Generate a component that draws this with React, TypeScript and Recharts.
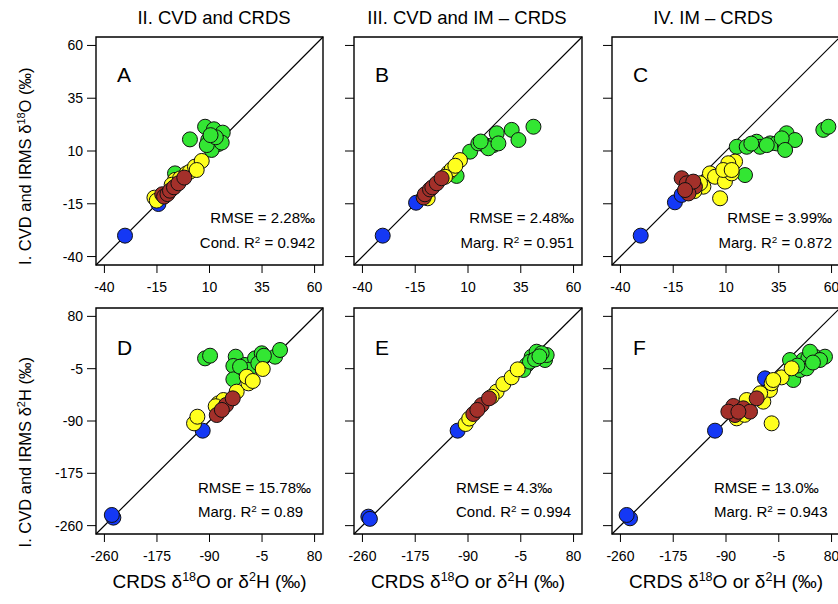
import React from "react";
import { ScatterChart, Scatter, XAxis, YAxis, ReferenceLine, ReferenceArea } from "recharts";

type Pt = [number, number];

// axis setup (R style: 4% padding around the tick range)
const isoTicks = [-40, -15, 10, 35, 60];
const isoDomain: [number, number] = [-44, 64];
const hydTicks = [-260, -175, -90, -5, 80];
const hydDomain: [number, number] = [-273.6, 93.6];

const colTitles = ["II. CVD and CRDS", "III. CVD and IM \u2013 CRDS", "IV. IM \u2013 CRDS"];
const panelLetters = ["A", "B", "C", "D", "E", "F"];
const rmseValues = ["2.28", "2.48", "3.99", "15.78", "4.3", "13.0"];
const r2Kinds = ["Cond.", "Marg.", "Marg.", "Marg.", "Cond.", "Marg."];
const r2Values = ["0.942", "0.951", "0.872", "0.89", "0.994", "0.943"];

// A: CVD and CRDS, d18O
const aBlue: Pt[] = [[-30.2, -30.1], [-14.3, -15.1]];
const aGreen: Pt[] = [[7.9, 21.5], [12.1, 20.3], [16.3, 18.7], [0.7, 15.5], [9.4, 15.2], [11.8, 14], [14.2, 13.3], [11, 10.5], [8.7, 12.8], [15.8, 14], [-6.4, -0.6], [13, 16.5], [10.5, 17.5]];
const aYellow: Pt[] = [[-16.2, -12.1], [-15.1, -13.5], [-0.9, -0.6], [0.7, 0.2], [3.1, 2.6], [6.3, 5.3], [3.9, 1], [-6.4, -3.7], [-8, -6], [-4, -3]];
const aBrown: Pt[] = [[-12.5, -10.5], [-11.6, -11.6], [-10, -10.4], [-8.8, -8.8], [-6.9, -7.2], [-4.8, -5.3], [-2, -2.6]];

// B: CVD and IM - CRDS, d18O
const bBlue: Pt[] = [[-30.4, -30.1], [-14.6, -14.5]];
const bGreen: Pt[] = [[4.6, -1.8], [11, 9.7], [18.1, 12.8], [14.9, 13.6], [22, 12.8], [23.6, 18.4], [30.7, 20], [33.9, 15.2], [41, 21.5], [19.6, 11.3], [24.4, 13.6], [16, 14.5]];
const bYellow: Pt[] = [[-9.1, -12.4], [0.7, -0.3], [6.2, 5.7], [2.3, 1.3], [-0.9, -2.2], [4, 3]];
const bBrown: Pt[] = [[-11, -12], [-10.4, -10.5], [-8, -8.2], [-6.9, -7.2], [-4.8, -5.3], [-2.5, -2.9]];

// C: IM - CRDS, d18O
const cBlue: Pt[] = [[-30.4, -30.1], [-14.2, -14.3], [-11, -10.8]];
const cGreen: Pt[] = [[15.1, 12], [19, -1.4], [19.8, 12], [24.5, 14.4], [26.1, 12], [30.9, 13.6], [34, 13.6], [37.9, 12.8], [38.7, 18.4], [42.7, 15.2], [36.4, 16], [56.1, 20], [58.5, 21.5], [29.3, 12.8], [22, 13.5], [38, 10.5]];
const cYellow: Pt[] = [[2.4, -0.6], [4.8, -2.2], [9.5, -4.5], [12.7, -0.6], [14.3, 5], [11.1, 4.2], [7.2, -12.4], [-0.7, -6.9], [-2.3, -5.3], [8.7, 1], [12.7, 1], [-5, -9]];
const cBrown: Pt[] = [[-11, -2.9], [-8.6, -5.3], [-7.1, -7.7], [-4.7, -6.9], [-7.8, -10.1], [-5.5, -4.5], [-9.4, -8.5]];

// D: CVD and CRDS, d2H
const dBlue: Pt[] = [[-245.5, -247], [-248, -242.7], [-101, -105.7]];
const dGreen: Pt[] = [[-97.2, 11.8], [-89.1, 16.1], [-47.6, 14.5], [-51.4, -0.6], [-51.4, -22.3], [-32.5, 1], [-16.3, 11.8], [-5.5, 20], [16.1, 14.5], [24.1, 25.4], [-27, -7.1], [-40.6, -1.7], [-11, 3.7], [-2, 16]];
const dYellow: Pt[] = [[-115, -93.8], [-109.6, -83], [-75.6, -61.3], [-46, -42.3], [-27, -28.8], [-29.8, -18], [-3.9, -5.5], [-67.5, -55.9], [-20, -25], [-80, -66]];
const dBrown: Pt[] = [[-78.3, -80.3], [-63.2, -64], [-52.4, -53.2], [-70, -72]];

// E: CVD and IM - CRDS, d2H
const eBlue: Pt[] = [[-250.5, -245.4], [-248, -249], [-106.7, -105.7]];
const eGreen: Pt[] = [[12.5, 14.5], [20.5, 22.6], [34, 9.1], [36.7, 17.2], [4.4, 1], [-0.9, -7.1], [9.8, 6.4], [28.6, 20], [18, 10], [25, 15]];
const eYellow: Pt[] = [[-93.8, -94.9], [-43.9, -42.3], [-33.1, -29.9], [-19.7, -19.1], [-10, -6.1], [-51.9, -50.5], [-88, -86]];
const eBrown: Pt[] = [[-81.4, -78.6], [-68, -64], [-56.2, -53.2], [-75, -72]];

// F: IM - CRDS, d2H
const fBlue: Pt[] = [[-244.6, -248.1], [-250, -242.7], [-107.7, -105.7], [-27.2, -20.7]];
const fGreen: Pt[] = [[18.4, -23.4], [29.2, -7.1], [34.5, 9.1], [42.6, 11.8], [53.3, 14.5], [69.4, 14.5], [13.1, 9.1], [45.3, 22.6], [39.9, -4.4], [61.4, 9.1], [50, 5], [25, 0]];
const fYellow: Pt[] = [[-72.8, -85.7], [-56.7, -55.9], [-29.9, -58.6], [-19.2, -39.6], [-16.5, -28.8], [-0.4, -19.1], [15.7, -4.4], [-16.5, -93.8], [-13.8, -23.4], [-35, -45], [-60, -80]];
const fBrown: Pt[] = [[-78.2, -65.6], [-75.5, -80.3], [-86.2, -74.8], [-62.1, -69.4], [-40.6, -53.2], [-51.3, -74.8], [-70, -75]];

const panelData = [
  { blue: aBlue, green: aGreen, yellow: aYellow, brown: aBrown },
  { blue: bBlue, green: bGreen, yellow: bYellow, brown: bBrown },
  { blue: cBlue, green: cGreen, yellow: cYellow, brown: cBrown },
  { blue: dBlue, green: dGreen, yellow: dYellow, brown: dBrown },
  { blue: eBlue, green: eGreen, yellow: eYellow, brown: eBrown },
  { blue: fBlue, green: fGreen, yellow: fYellow, brown: fBrown },
];

const COLORS = { blue: "#1438f5", green: "#33e633", yellow: "#ffff1e", brown: "#a3302a" };
const DRAW_ORDER: (keyof typeof COLORS)[] = ["blue", "green", "yellow", "brown"];

const FONT = '"Liberation Sans", Arial, Helvetica, sans-serif';

// frame positions on the page
const colX = [96, 354, 612];
const colW = [227, 228, 228];
const rowY = [37, 308];
const rowH = [228, 226];

const PADL = 50;
const PADT = 10;
const PADR = 10;
const PADB = 40;

const Sup = ({ children }: { children: React.ReactNode }) => (
  <span style={{ fontSize: "0.66em", verticalAlign: "0.55em", lineHeight: 0 }}>{children}</span>
);

function dot(color: string) {
  return (props: any) => (
    <circle cx={props.cx} cy={props.cy} r={7.5} fill={color} stroke="#111" strokeWidth={1} />
  );
}

function Panel({ idx }: { idx: number }) {
  const row = Math.floor(idx / 3);
  const col = idx % 3;
  const fx = colX[col];
  const fy = rowY[row];
  const fw = colW[col];
  const fh = rowH[row];
  const domain = row === 0 ? isoDomain : hydDomain;
  const ticks = row === 0 ? isoTicks : hydTicks;
  const series = panelData[idx];
  const tickStyle = { fill: "#000", fontSize: 14, fontFamily: FONT };

  return (
    <div style={{ position: "absolute", left: fx - PADL, top: fy - PADT }}>
      <ScatterChart
        width={fw + PADL + PADR}
        height={fh + PADT + PADB}
        margin={{ top: PADT, right: PADR, left: 0, bottom: 0 }}
      >
        <XAxis
          type="number"
          dataKey="x"
          domain={domain}
          ticks={ticks}
          interval={0}
          allowDataOverflow
          height={PADB}
          tickSize={8}
          tickMargin={9}
          axisLine={false}
          tickLine={{ stroke: "#000" }}
          tick={tickStyle}
        />
        <YAxis
          type="number"
          dataKey="y"
          domain={domain}
          ticks={ticks}
          interval={0}
          allowDataOverflow
          width={PADL}
          tickSize={9}
          tickMargin={4}
          axisLine={false}
          tickLine={{ stroke: "#000" }}
          tick={tickStyle}
          tickFormatter={col === 0 ? (v: number) => String(v) : () => ""}
        />
        <ReferenceLine
          segment={[{ x: domain[0], y: domain[0] }, { x: domain[1], y: domain[1] }]}
          stroke="#000"
          strokeWidth={1.2}
        />
        {DRAW_ORDER.map((k) => (
          <Scatter
            key={k}
            data={series[k].map(([x, y]) => ({ x, y }))}
            shape={dot(COLORS[k])}
            isAnimationActive={false}
          />
        ))}
        <ReferenceArea
          x1={domain[0]}
          x2={domain[1]}
          y1={domain[0]}
          y2={domain[1]}
          fill="none"
          fillOpacity={0}
          stroke="#000"
          strokeWidth={1.4}
        />
      </ScatterChart>
    </div>
  );
}

function abs(left: number, top: number, width: number, fontSize: number, align: "left" | "center" | "right") {
  return {
    position: "absolute" as const,
    left,
    top: top - fontSize / 2,
    width,
    fontSize,
    lineHeight: 1,
    textAlign: align,
    whiteSpace: "nowrap" as const,
    color: "#000",
  };
}

export default function App() {
  const titleCenters = [214, 467, 713];
  return (
    <div
      style={{
        position: "absolute",
        left: 0,
        top: 0,
        width: 838,
        height: 604,
        overflow: "hidden",
        background: "#fff",
        fontFamily: FONT,
      }}
    >
      {[0, 1, 2, 3, 4, 5].map((i) => (
        <Panel key={i} idx={i} />
      ))}

      {colTitles.map((t, i) => (
        <div key={t} style={abs(titleCenters[i] - 150, 18, 300, 18.5, "center")}>
          {t}
        </div>
      ))}

      {panelLetters.map((l, i) => {
        const row = Math.floor(i / 3);
        const col = i % 3;
        return (
          <div key={l} style={abs(colX[col] + 21, rowY[row] + (row === 0 ? 37 : 39), 30, 21, "left")}>
            {l}
          </div>
        );
      })}

      {rmseValues.map((v, i) => {
        const row = Math.floor(i / 3);
        const col = i % 3;
        const right = colX[col] + colW[col] - 8;
        const left = row === 0 ? right - 200 : colX[col] + 102;
        const align = row === 0 ? "right" : "left";
        const y1 = row === 0 ? 217 : 487;
        const y2 = row === 0 ? 242 : 511.5;
        return (
          <React.Fragment key={i}>
            <div style={abs(left, y1, 200, 15, align)}>RMSE = {v}{"\u2030"}</div>
            <div style={abs(left, y2, 200, 15, align)}>
              {r2Kinds[i]} R<Sup>2</Sup> = {r2Values[i]}
            </div>
          </React.Fragment>
        );
      })}

      {[0, 1, 2].map((c) => (
        <div key={c} style={abs(colX[c] + colW[c] / 2 - 150, 581, 300, 19, "center")}>
          CRDS {"\u03b4"}<Sup>18</Sup>O or {"\u03b4"}<Sup>2</Sup>H ({"\u2030"})
        </div>
      ))}

      <div style={{ ...abs(25 - 150, 166, 300, 16.5, "center"), transform: "rotate(-90deg)" }}>
        I. CVD and IRMS {"\u03b4"}<Sup>18</Sup>O ({"\u2030"})
      </div>
      <div style={{ ...abs(25 - 150, 452, 300, 16.5, "center"), transform: "rotate(-90deg)" }}>
        I. CVD and IRMS {"\u03b4"}<Sup>2</Sup>H ({"\u2030"})
      </div>
    </div>
  );
}
